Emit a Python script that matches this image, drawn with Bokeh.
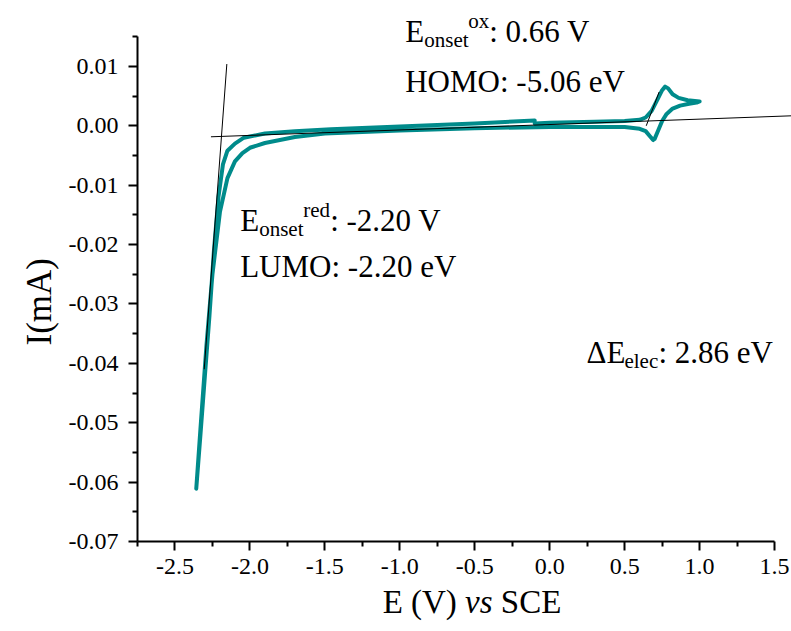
from bokeh.plotting import figure
from bokeh.models import Range1d, FixedTicker, PrintfTickFormatter, Label, Title, Div
from bokeh.layouts import column
from bokeh.embed import file_html
from bokeh.resources import INLINE

# ---------------- data ----------------
# anodic scan from the start potential (-0.1 V) to the switching potential (1.0 V)
e_ox = [-0.10, 0.00, 0.30, 0.50, 0.60, 0.64, 0.68, 0.72, 0.75, 0.77, 0.79, 0.82, 0.86, 0.92, 1.00]
i_ox = [0.0004, 0.0005, 0.0007, 0.0008, 0.0010, 0.0014, 0.0025, 0.0045, 0.0060, 0.0066, 0.0063,
        0.0053, 0.0047, 0.0043, 0.0041]
# cathodic scan from 1.0 V to the negative limit
e_red = [0.98, 0.93, 0.87, 0.82, 0.78, 0.75, 0.72, 0.70, 0.69, 0.67, 0.64, 0.60, 0.50, 0.00,
         -0.50, -1.00, -1.50, -1.70, -1.90, -2.00, -2.05, -2.10, -2.15, -2.20, -2.25, -2.29,
         -2.33, -2.358]
i_red = [0.0039, 0.0037, 0.0034, 0.0029, 0.0020, 0.0008, -0.0010, -0.0022, -0.0024, -0.0018,
         -0.0009, -0.0005, -0.0002, -0.0002, -0.0004, -0.0008, -0.0013, -0.0019, -0.0029,
         -0.0037, -0.0046, -0.0060, -0.0088, -0.0145, -0.0250, -0.0370, -0.0510, -0.0611]
# return scan from the negative limit back to -0.1 V
e_back = [-2.33, -2.30, -2.27, -2.24, -2.21, -2.18, -2.15, -2.10, -2.04, -1.90, -1.70, -1.46,
          -1.00, -0.50, -0.10]
i_back = [-0.0520, -0.0420, -0.0320, -0.0210, -0.0120, -0.0065, -0.0042, -0.0030, -0.0020,
          -0.0013, -0.0009, -0.0006, -0.0001, 0.0004, 0.0009]

# onset tangents
tan_red_e = [-2.154, -2.305]
tan_red_i = [0.0104, -0.0410]
base_e = [-2.26, 1.61]
base_i = [-0.00185, 0.00168]
tan_ox_e = [0.644, 0.730]
tan_ox_i = [0.0000, 0.0057]

x_ticks = [-2.5, -2.0, -1.5, -1.0, -0.5, 0.0, 0.5, 1.0, 1.5]
x_minor = [-2.75, -2.25, -1.75, -1.25, -0.75, -0.25, 0.25, 0.75, 1.25]
y_ticks = [-0.07, -0.06, -0.05, -0.04, -0.03, -0.02, -0.01, 0.00, 0.01]
y_minor = [-0.065, -0.055, -0.045, -0.035, -0.025, -0.015, -0.005, 0.005, 0.015]

e_all = e_ox + e_red + e_back
i_all = i_ox + i_red + i_back

FONT = "Liberation Serif"
TEAL = "#008B8B"

p = figure(width=791, height=586, output_backend="svg", toolbar_location=None,
           x_range=Range1d(-2.75, 1.613), y_range=Range1d(-0.07, 0.0211),
           min_border_left=137, min_border_right=0, min_border_top=0, min_border_bottom=45)
p.outline_line_color = None
p.xgrid.visible = False
p.ygrid.visible = False
p.background_fill_color = "white"
p.border_fill_color = "white"

for ax in (p.xaxis[0], p.yaxis[0]):
    ax.axis_line_width = 2
    ax.major_tick_line_width = 2
    ax.minor_tick_line_width = 2
    ax.major_tick_in = 0
    ax.major_tick_out = 9
    ax.minor_tick_in = 0
    ax.minor_tick_out = 5
    ax.major_label_text_font = FONT
    ax.major_label_text_font_size = "24px"
    ax.major_label_text_color = "black"
    ax.axis_line_color = "black"
    ax.major_tick_line_color = "black"
    ax.minor_tick_line_color = "black"

xa = p.xaxis[0]
xa.bounds = (-2.75, 1.5)
xa.ticker = FixedTicker(ticks=x_ticks, minor_ticks=x_minor)
xa.formatter = PrintfTickFormatter(format="%.1f")
xa.major_label_standoff = 8

ya = p.yaxis[0]
ya.bounds = (-0.07, 0.015)
ya.ticker = FixedTicker(ticks=y_ticks, minor_ticks=y_minor)
ya.formatter = PrintfTickFormatter(format="%.2f")
ya.major_label_standoff = 10

p.add_layout(Title(text="I(mA)", align="left", offset=196, standoff=13,
                   text_font=FONT, text_font_size="35px", text_font_style="normal",
                   text_color="black"), "left")

p.line(e_all, i_all, line_color=TEAL, line_width=4, line_join="round", line_cap="round")
p.line(tan_red_e, tan_red_i, line_color="black", line_width=1)
p.line(base_e, base_i, line_color="black", line_width=1)
p.line(tan_ox_e, tan_ox_i, line_color="black", line_width=1)


def piece(x, y, text, size, dx=0, dy=0, style="normal"):
    p.add_layout(Label(x=x, y=y, text=text, x_offset=dx, y_offset=dy,
                       text_font=FONT, text_font_size=size, text_font_style=style,
                       text_color="black", text_baseline="alphabetic", text_align="left"))


BIG, SMALL = "31px", "21px"
# oxidation onset
ox_x, ox_y = -0.964, 0.0158
piece(ox_x, ox_y, "E", BIG)
piece(ox_x, ox_y, "onset", SMALL, 19, -8)
piece(ox_x, ox_y, "ox", SMALL, 63, 11)
piece(ox_x, ox_y, ": 0.66 V", BIG, 84)
piece(ox_x, 0.0075, "HOMO: -5.06 eV", BIG)
# reduction onset
rd_x, rd_y = -2.065, -0.0160
piece(rd_x, rd_y, "E", BIG)
piece(rd_x, rd_y, "onset", SMALL, 19, -8)
piece(rd_x, rd_y, "red", SMALL, 63, 11)
piece(rd_x, rd_y, ": -2.20 V", BIG, 90)
piece(rd_x, -0.02365, "LUMO: -2.20 eV", BIG)
# electrochemical gap
g_x, g_y = 0.245, -0.0382
piece(g_x, g_y, "\u0394E", BIG)
piece(g_x, g_y, "elec", SMALL, 38, -8)
piece(g_x, g_y, ": 2.86 eV", BIG, 72)

# x axis title (with italic "vs") below the plot
xlabel = Div(text=('<div style="width:791px;box-sizing:border-box;padding-left:153px;'
                   'text-align:center;white-space:nowrap;font-family:\'Liberation Serif\';'
                   'font-size:33px;line-height:33px;color:black;">'
                   'E (V) <i>vs</i> SCE</div>'),
             width=791, height=45, margin=(0, 0, 0, 0))

layout = column(p, xlabel, spacing=0)
open("out.html", "w").write(file_html(layout, INLINE))
